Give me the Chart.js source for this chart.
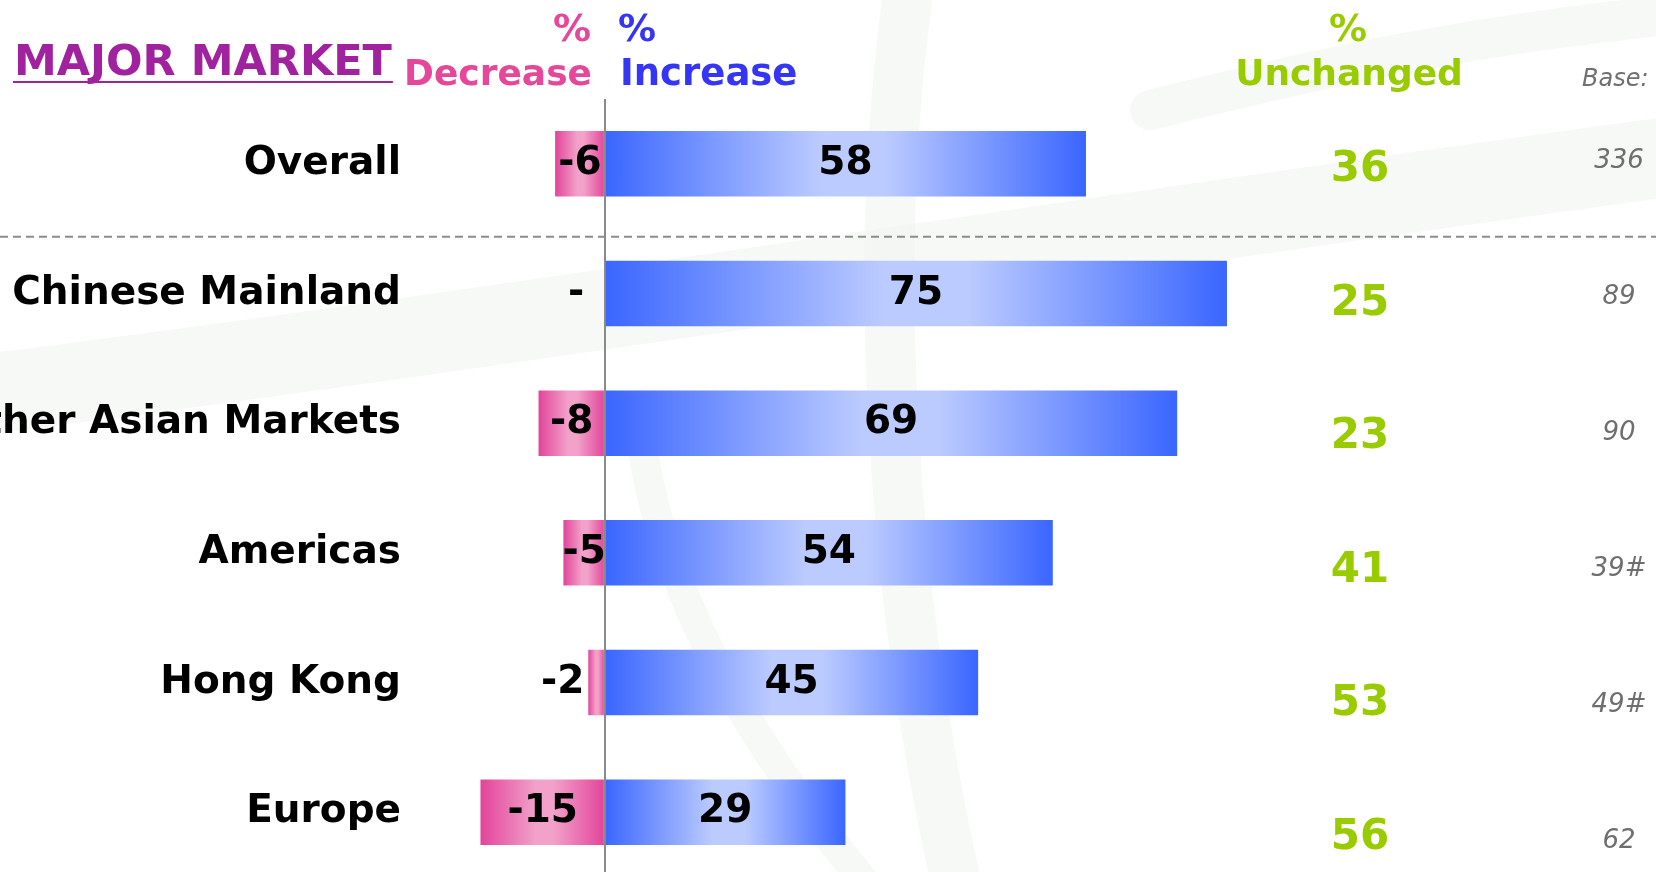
<!DOCTYPE html>
<html>
<head>
<meta charset="utf-8">
<title>Major market</title>
<script src="https://cdn.jsdelivr.net/npm/chart.js@4.4.1/dist/chart.umd.min.js"></script>
<style>
  html, body { margin: 0; padding: 0; background: #fff; overflow: hidden; }
  #wrap { position: relative; width: 1656px; height: 872px; overflow: hidden; }
  canvas { display: block; }
</style>
</head>
<body>
<div id="wrap"><canvas id="chart" width="1656" height="877"></canvas></div>
<script>
// % of respondents by market
const markets = ['Overall', 'Chinese Mainland', 'Other Asian Markets', 'Americas', 'Hong Kong', 'Europe'];
const decrease = [-6, 0, -8, -5, -2, -15];
const increase = [58, 75, 69, 54, 45, 29];
const unchanged = [36, 25, 23, 41, 53, 56];
const bases = ['336', '89', '90', '39#', '49#', '62'];

const FONT = '"DejaVu Sans", Verdana, sans-serif';
const PINK = '#e6479a';
const BLUE = '#3535f5';
const GREEN = '#99cc00';
const PURPLE = '#a0229f';

// horizontal dark -> light -> dark fill across each bar
function barFill(dark, light) {
  return (c) => {
    const chart = c.chart;
    if (!chart.chartArea || c.type !== 'data') return dark;
    const xs = chart.scales.x;
    const a = xs.getPixelForValue(0);
    const b = xs.getPixelForValue(c.raw);
    if (Math.abs(a - b) < 1) return dark;
    const g = chart.ctx.createLinearGradient(Math.min(a, b), 0, Math.max(a, b), 0);
    g.addColorStop(0, dark);
    g.addColorStop(0.45, light);
    g.addColorStop(0.58, light);
    g.addColorStop(1, dark);
    return g;
  };
}

function text(ctx, str, x, y, font, color, align) {
  ctx.font = font;
  ctx.fillStyle = color;
  ctx.textAlign = align || 'left';
  ctx.fillText(str, x, y);
}

function swash(ctx, width, pts) {
  ctx.lineWidth = width;
  ctx.beginPath();
  ctx.moveTo(pts[0], pts[1]);
  ctx.bezierCurveTo(pts[2], pts[3], pts[4], pts[5], pts[6], pts[7]);
  ctx.stroke();
}

const overlay = {
  id: 'overlay',
  beforeDraw(chart) {
    const ctx = chart.ctx;
    ctx.save();
    ctx.fillStyle = '#fff';
    ctx.fillRect(0, 0, chart.width, chart.height);
    // faint background swashes
    ctx.lineCap = 'round';
    ctx.strokeStyle = 'rgba(238,241,238,0.45)';
    swash(ctx, 80, [-60, 400, 500, 330, 1050, 240, 1720, 150]);
    swash(ctx, 40, [1150, 110, 1350, 60, 1500, 30, 1720, 10]);
    swash(ctx, 50, [910, -20, 870, 250, 890, 600, 960, 900]);
    swash(ctx, 30, [640, 430, 660, 600, 760, 760, 880, 900]);
    ctx.restore();
  },
  afterDraw(chart) {
    const ctx = chart.ctx;
    const xs = chart.scales.x;
    const ys = chart.scales.y;
    const x0 = xs.getPixelForValue(0);
    ctx.save();

    // separator under the overall row
    const sepY = (ys.getPixelForValue(0) + ys.getPixelForValue(1)) / 2 + 8;
    ctx.strokeStyle = '#8c8c8c';
    ctx.lineWidth = 2;
    ctx.setLineDash([8, 5]);
    ctx.beginPath();
    ctx.moveTo(0, sepY);
    ctx.lineTo(chart.width, sepY);
    ctx.stroke();
    ctx.setLineDash([]);

    // values on the bars
    ctx.textBaseline = 'middle';
    const valFont = 'bold 39px ' + FONT;
    increase.forEach((v, i) => {
      const y = ys.getPixelForValue(i);
      text(ctx, String(v), (x0 + xs.getPixelForValue(v)) / 2, y, valFont, '#000', 'center');
    });
    decrease.forEach((v, i) => {
      const y = ys.getPixelForValue(i);
      const label = v === 0 ? '-' : String(v);
      if (Math.abs(v) >= 5) {
        text(ctx, label, (x0 + xs.getPixelForValue(v)) / 2, y, valFont, '#000', 'center');
      } else {
        text(ctx, label, xs.getPixelForValue(Math.min(v, -2)) - 4, y, valFont, '#000', 'right');
      }
    });

    // unchanged and base columns
    const top = ys.getPixelForValue(0);
    unchanged.forEach((v, i) => {
      text(ctx, String(v), 1360, top + 6.5 + i * 133.5, 'bold 42px ' + FONT, GREEN, 'center');
    });
    bases.forEach((v, i) => {
      text(ctx, v, 1619, top - 2.5 + i * 136, 'italic 26px ' + FONT, '#6e6e6e', 'center');
    });

    // column headings
    ctx.textBaseline = 'alphabetic';
    text(ctx, 'MAJOR MARKET', 14, 75, 'bold 43px ' + FONT, PURPLE, 'left');
    const w = ctx.measureText('MAJOR MARKET').width;
    ctx.fillStyle = PURPLE;
    ctx.fillRect(13, 81, w + 2, 2);

    text(ctx, '%', 591, 41, 'bold 38px ' + FONT, PINK, 'right');
    text(ctx, 'Decrease', 592, 85, 'bold 36px ' + FONT, PINK, 'right');
    text(ctx, '%', 618, 41, 'bold 38px ' + FONT, BLUE, 'left');
    text(ctx, 'Increase', 620, 85, 'bold 37px ' + FONT, BLUE, 'left');
    text(ctx, '%', 1348, 41, 'bold 38px ' + FONT, GREEN, 'center');
    text(ctx, 'Unchanged', 1349, 85, 'bold 36px ' + FONT, GREEN, 'center');
    text(ctx, 'Base:', 1582, 86, 'italic 24px ' + FONT, '#707070', 'left');
    ctx.restore();
  }
};

new Chart(document.getElementById('chart'), {
  type: 'bar',
  data: {
    labels: markets,
    datasets: [
      {
        label: '% Decrease',
        data: decrease,
        backgroundColor: barFill('#e2449a', '#f2a2ca'),
        borderWidth: 0,
        categoryPercentage: 1,
        barPercentage: 0.505
      },
      {
        label: '% Increase',
        data: increase,
        backgroundColor: barFill('#3a66ff', '#bccbff'),
        borderWidth: 0,
        categoryPercentage: 1,
        barPercentage: 0.505
      }
    ]
  },
  options: {
    indexAxis: 'y',
    responsive: false,
    animation: false,
    layout: { padding: { top: 99, right: 6, left: 0, bottom: 0 } },
    scales: {
      x: {
        stacked: true,
        min: -20,
        max: 126,
        z: 1,
        border: { display: false },
        ticks: { display: false, stepSize: 10 },
        grid: {
          drawTicks: false,
          lineWidth: 2,
          color: (c) => (c.tick && c.tick.value === 0 ? '#8a8a8a' : 'rgba(0,0,0,0)')
        }
      },
      y: {
        stacked: true,
        border: { display: false },
        grid: { display: false, drawTicks: false },
        ticks: {
          padding: 38,
          color: '#000',
          font: { family: FONT, weight: 'bold', size: 39 }
        },
        afterFit: (s) => {
          s.width = 439;
          s.paddingTop = 0;
          s.paddingBottom = 0;
        }
      }
    },
    plugins: {
      legend: { display: false },
      tooltip: { enabled: false }
    }
  },
  plugins: [overlay]
});
</script>
</body>
</html>
